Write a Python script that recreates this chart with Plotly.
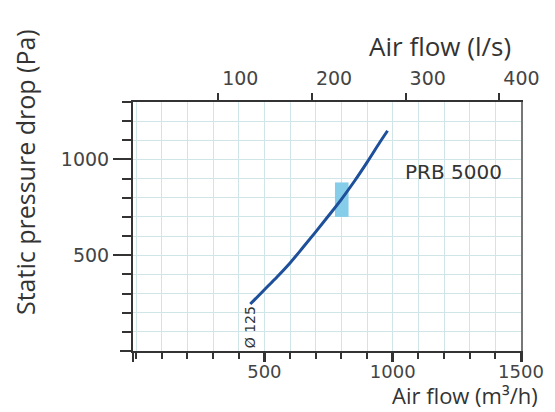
import plotly.graph_objects as go

# Data
flow_m3h = [445, 500, 550, 600, 650, 700, 750, 800, 850, 900, 950, 980]
pressure_pa = [245, 320, 388, 460, 540, 622, 706, 792, 885, 985, 1090, 1150]

# Operating zone (light blue box)
zone_flow = [775, 828]
zone_pressure = [700, 880]

x_ticks = [500, 1000, 1500]
x_ticktext = ["500", "1000", "1500"]
y_ticks = [500, 1000]
y_ticktext = ["500", "1000"]
top_ticks = [100, 200, 300, 400]
top_ticktext = ["100", "200", "300", "400"]

series_label = "PRB 5000"
duct_label = "Ø 125"

TICKFONT = dict(family="DejaVu Sans", size=19, color="#444")
TITLEFONT = dict(family="Open Sans", size=26, color="#333")
GRID = "#cfe5e7"
AXIS = "#333333"

fig = go.Figure()

fig.add_trace(go.Scatter(
    x=[zone_flow[0], zone_flow[1], zone_flow[1], zone_flow[0], zone_flow[0]],
    y=[zone_pressure[0], zone_pressure[0], zone_pressure[1], zone_pressure[1], zone_pressure[0]],
    fill="toself", fillcolor="#86cdea", line=dict(width=0),
    mode="lines", hoverinfo="skip", showlegend=False))

fig.add_trace(go.Scatter(
    x=flow_m3h, y=pressure_pa, mode="lines",
    line=dict(color="#1d4f9a", width=3, shape="spline"),
    showlegend=False))

# dummy traces so the top axis and right border are drawn
fig.add_trace(go.Scatter(x=[top_ticks[0]], y=[None], xaxis="x2",
                         mode="markers", showlegend=False, hoverinfo="skip"))
fig.add_trace(go.Scatter(x=[x_ticks[0]], y=[None], yaxis="y2",
                         mode="markers", showlegend=False, hoverinfo="skip"))

# page body has an 8px margin, so the figure is 8px smaller than the window
PW, PH = 388, 249
fig.update_layout(
    template="none",
    width=547, height=404,
    margin=dict(l=125, r=34, t=94, b=61),
    paper_bgcolor="white", plot_bgcolor="white",
    xaxis=dict(range=[-12, 1500], tickmode="array", tickvals=x_ticks, ticktext=x_ticktext,
               ticks="outside", ticklen=9, tickwidth=2.5, tickcolor=AXIS,
               showline=True, linecolor=AXIS, linewidth=2, mirror=False, automargin=False,
               showgrid=True, gridcolor=GRID, gridwidth=1, zeroline=False,
               tickfont=dict(TICKFONT, size=18), ticklabelstandoff=-6,
               minor=dict(tickmode="linear", tick0=0, dtick=100, ticks="outside",
                          ticklen=6, tickwidth=1.5, tickcolor=AXIS,
                          showgrid=True, gridcolor=GRID, gridwidth=1)),
    yaxis=dict(range=[0, 1300], tickmode="array", tickvals=y_ticks, ticktext=y_ticktext,
               ticks="outside", ticklen=18, tickwidth=1.5, tickcolor=AXIS,
               showline=True, linecolor=AXIS, linewidth=2, mirror=False, automargin=False,
               showgrid=True, gridcolor=GRID, gridwidth=1, zeroline=False,
               tickfont=TICKFONT,
               minor=dict(tickmode="linear", tick0=0, dtick=100, ticks="outside",
                          ticklen=9, tickwidth=1.5, tickcolor=AXIS,
                          showgrid=True, gridcolor=GRID, gridwidth=1)),
    xaxis2=dict(overlaying="x", side="top", anchor="y", range=[9, 423],
                tickmode="array", tickvals=top_ticks, ticktext=top_ticktext,
                ticks="outside", ticklen=7, tickwidth=1.5, tickcolor=AXIS,
                showline=True, linecolor=AXIS, linewidth=2, automargin=False,
                showgrid=False, zeroline=False, tickfont=TICKFONT,
                ticklabelshift=22),
    yaxis2=dict(overlaying="y", side="right", anchor="x", range=[0, 1300],
                showline=True, linecolor="#777", linewidth=2, automargin=False,
                showticklabels=False, ticks="", showgrid=False, zeroline=False),
    showlegend=False,
)

# positions below are in window pixels relative to the plot area (left 133, bottom 351)
fig.add_annotation(text="Static pressure drop (Pa)", xref="paper", yref="paper",
                   x=(25 - 133) / PW, y=(351 - 172) / PH, textangle=-90,
                   showarrow=False, font=dict(TITLEFONT, size=25),
                   xanchor="center", yanchor="middle")
fig.add_annotation(text="Air flow (l/s)", xref="paper", yref="paper",
                   x=(513 - 133) / PW, y=(351 - 46) / PH,
                   showarrow=False, font=TITLEFONT, xanchor="right", yanchor="middle")
fig.add_annotation(text="Air flow (m³/h)", xref="paper", yref="paper",
                   x=(539 - 133) / PW, y=(351 - 411) / PH,
                   showarrow=False, font=dict(TITLEFONT, size=22), borderpad=0,
                   xanchor="right", yanchor="bottom")
fig.add_annotation(text=series_label, x=1238, y=937, showarrow=False,
                   font=dict(family="DejaVu Sans", size=20, color="#333"))
fig.add_annotation(text=duct_label, x=flow_m3h[0], y=125, showarrow=False, textangle=-90,
                   font=dict(family="DejaVu Sans", size=14, color="#333"))

# axis overhangs
fig.add_shape(type="line", xref="paper", yref="paper", x0=-13 / PW, x1=0, y0=0, y1=0,
              line=dict(color=AXIS, width=2))
fig.add_shape(type="line", xref="paper", yref="paper", x0=0, x1=0, y0=-11 / PH, y1=0,
              line=dict(color=AXIS, width=2))
fig.add_shape(type="line", xref="paper", yref="paper", x0=-9 / PW, x1=0, y0=1, y1=1,
              line=dict(color=AXIS, width=2))

fig.write_html("out.html")
